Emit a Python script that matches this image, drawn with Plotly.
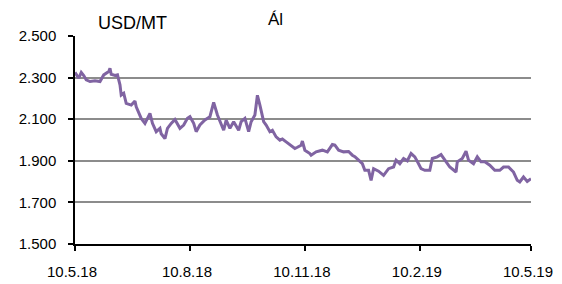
import datetime as dt
import plotly.graph_objects as go

start_date = "2018-05-10"
day_offsets = [0, 3, 5, 7, 9, 12, 16, 20, 23, 27,
               28, 29, 32, 34, 36, 37, 39, 41, 45, 48,
               49, 53, 56, 58, 60, 62, 65, 68, 69, 72,
               74, 77, 80, 84, 87, 90, 92, 95, 97, 100,
               104, 108, 111, 114, 116, 119, 121, 124, 127, 131,
               133, 136, 139, 141, 144, 146, 148, 151, 153, 156,
               158, 161, 164, 166, 169, 173, 176, 178, 181, 182,
               184, 188, 189, 193, 198, 202, 206, 208, 211, 215,
               219, 222, 224, 227, 230, 232, 235, 237, 239, 243,
               247, 251, 255, 257, 260, 263, 266, 269, 272, 275,
               277, 280, 284, 286, 290, 293, 296, 300, 305, 306,
               310, 313, 315, 319, 322, 325, 328, 332, 336, 340,
               343, 347, 351, 354, 356, 359, 362, 365]
prices = [2325, 2297, 2325, 2310, 2289, 2281, 2285, 2281, 2313, 2329,
          2345, 2316, 2310, 2313, 2265, 2216, 2225, 2176, 2168, 2187,
          2160, 2104, 2080, 2104, 2128, 2080, 2040, 2056, 2030, 2007,
          2056, 2080, 2099, 2056, 2072, 2104, 2112, 2080, 2040, 2072,
          2096, 2112, 2181, 2120, 2088, 2047, 2096, 2056, 2088, 2047,
          2088, 2104, 2040, 2088, 2120, 2215, 2168, 2088, 2072, 2040,
          2047, 2015, 1999, 2005, 1991, 1975, 1959, 1965, 1975, 1995,
          1951, 1935, 1927, 1943, 1951, 1943, 1978, 1975, 1951, 1943,
          1945, 1927, 1920, 1903, 1886, 1854, 1854, 1806, 1862, 1850,
          1830, 1862, 1870, 1903, 1886, 1911, 1900, 1935, 1919, 1886,
          1862, 1854, 1854, 1911, 1919, 1930, 1903, 1870, 1846, 1895,
          1911, 1946, 1903, 1886, 1919, 1895, 1895, 1879, 1854, 1854,
          1870, 1870, 1846, 1806, 1798, 1822, 1801, 1814]

x_tick_vals = ["2018-05-10", "2018-08-10", "2018-11-10", "2019-02-10", "2019-05-10"]
x_tick_text = ["10.5.18", "10.8.18", "10.11.18", "10.2.19", "10.5.19"]
y_tick_vals = [1500, 1700, 1900, 2100, 2300, 2500]
y_tick_text = ["1.500", "1.700", "1.900", "2.100", "2.300", "2.500"]
title_text = "Ál"
unit_text = "USD/MT"

assert len(day_offsets) == len(prices)
d0 = dt.date.fromisoformat(start_date)
dates = [d0 + dt.timedelta(days=d) for d in day_offsets]

font = dict(family="Liberation Sans, Arial, sans-serif", size=15, color="#000000")

fig = go.Figure()
fig.add_trace(go.Scatter(x=dates, y=prices, mode="lines",
                         line=dict(color="#8064A2", width=3), hoverinfo="skip"))

# the page body has an 8px default margin, so the figure sits 8px right/down
fig.update_layout(
    width=554, height=276,
    margin=dict(l=67, r=31, t=28, b=40),
    paper_bgcolor="white", plot_bgcolor="white",
    showlegend=False,
    font=font,
    xaxis=dict(range=["2018-05-10", "2019-05-10"], tickvals=x_tick_vals, ticktext=x_tick_text,
               showgrid=False, showline=True, linecolor="#000000", linewidth=1.5,
               ticks="outside", ticklen=5, tickcolor="#000000", tickwidth=1.5,
               tickangle=0, zeroline=False, ticklabelstandoff=8, ticklabelshift=-3,
               ticklabeloverflow="allow", automargin=False),
    yaxis=dict(range=[1500, 2500], tickvals=y_tick_vals, ticktext=y_tick_text,
               showgrid=True, gridcolor="#8c8c8c", gridwidth=1.5,
               showline=True, linecolor="#000000", linewidth=1.5,
               ticks="outside", ticklen=5, tickcolor="#000000", tickwidth=1.5,
               zeroline=False, ticklabelstandoff=9, automargin=False),
    annotations=[
        dict(text=title_text, xref="paper", yref="paper", x=0.44, y=1.078,
             xanchor="center", yanchor="middle", showarrow=False, font=dict(size=17)),
        dict(text=unit_text, xref="paper", yref="paper", x=0.127, y=1.062,
             xanchor="center", yanchor="middle", showarrow=False, font=dict(size=18)),
    ],
)

fig.write_html("out.html")
